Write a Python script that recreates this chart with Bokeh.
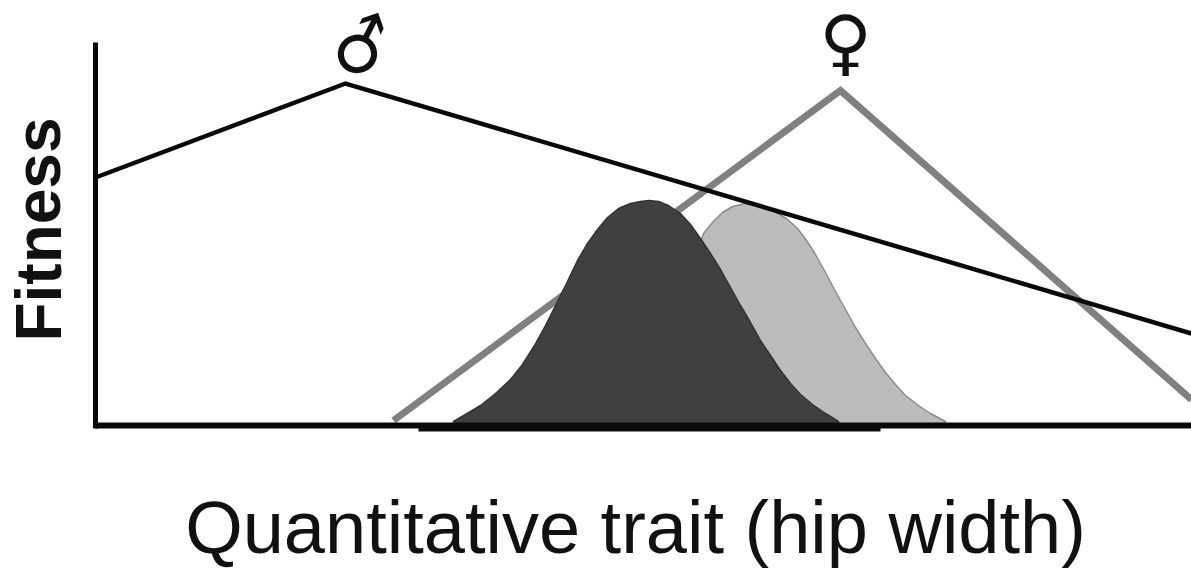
from bokeh.plotting import figure
from bokeh.models import Range1d, LinearAxis
from bokeh.core.properties import value
from bokeh.embed import file_html
from bokeh.resources import INLINE

X_LABEL = "Quantitative trait (hip width)"
Y_LABEL = "Fitness"
MALE_SYMBOL = "\u2642"
FEMALE_SYMBOL = "\u2640"

male_x = [0, 250, 1096]
male_y = [248, 342, 92]
female_x = [298, 745, 1096]
female_y = [5, 335, 26]

male_dist_x = [358, 370, 385, 400, 415, 427, 439, 450, 461, 471, 482, 492, 502, 512, 523, 535, 545, 553,
               563, 573, 585, 595, 605, 615, 625, 635, 645, 655, 665, 675, 685, 695, 705, 717, 730, 743, 743, 358]
male_dist_y = [4, 11, 20, 32, 46, 61, 80, 100, 122, 142, 165, 182, 196, 208, 217, 222, 224, 225,
               224, 220, 212, 201, 187, 172, 156, 138, 120, 103, 85, 70, 55, 42, 31, 21, 12, 4, 0, 0]
female_dist_x = [550, 608, 617, 627, 637, 650, 663, 677, 691, 702, 711, 720, 730, 740, 750, 760, 770, 780,
                 790, 800, 810, 823, 835, 850, 850]
female_dist_y = [0, 192, 203, 213, 219, 222, 220, 215, 207, 197, 185, 171, 153, 134, 116, 98, 82, 67,
                 53, 41, 30, 20, 12, 4, 0]
underbar_x = [323, 785]
underbar_y = [-4, -4]

p = figure(
    width=1191, height=576, output_backend="svg", toolbar_location=None,
    x_range=Range1d(-95, 1096), y_range=Range1d(-151, 425),
    x_axis_location=None, y_axis_location=None,
    min_border=0, background_fill_color="white", border_fill_color="white", outline_line_color=None,
)
p.grid.visible = False

xaxis = LinearAxis(fixed_location=0, bounds=(0, 1096), ticker=[], axis_line_width=6, axis_line_color="#0a0a0a",
                   major_tick_line_color=None, minor_tick_line_color=None, major_label_text_color=None)
yaxis = LinearAxis(fixed_location=0, bounds=(-3, 383), ticker=[], axis_line_width=5, axis_line_color="#0a0a0a",
                   major_tick_line_color=None, minor_tick_line_color=None, major_label_text_color=None)
p.add_layout(xaxis, "below")
p.add_layout(yaxis, "left")

p.line(female_x, female_y, line_color="#808080", line_width=7, line_join="miter")
p.patch(female_dist_x, female_dist_y, fill_color="#bcbcbc", line_color="#8c8c8c", line_width=1.5)
p.patch(male_dist_x, male_dist_y, fill_color="#404040", line_color="#333333", line_width=1.5)
p.line(male_x, male_y, line_color="#0a0a0a", line_width=4.5, line_join="miter")
p.line(underbar_x, underbar_y, line_color="#0a0a0a", line_width=4)

p.text([540], [-102], text=[X_LABEL], text_font=value("Liberation Sans"), text_font_size="74px",
       text_color="#111111", text_align="center", text_baseline="alphabetic")
p.text([-57], [196], text=[Y_LABEL], angle=1.5708, text_font=value("Liberation Sans"), text_font_style="bold",
       text_font_size="64px", text_color="#111111", text_align="center", text_baseline="alphabetic")
p.text([266], [379], text=[MALE_SYMBOL], angle=0.33, text_font=value("DejaVu Sans"), text_font_size="70px",
       text_color="#111111", text_align="center", text_baseline="alphabetic")
p.text([750], [384], text=[FEMALE_SYMBOL], text_font=value("DejaVu Sans"), text_font_size="72px",
       text_color="#111111", text_align="center", text_baseline="alphabetic")

open("out.html", "w").write(file_html(p, INLINE))
